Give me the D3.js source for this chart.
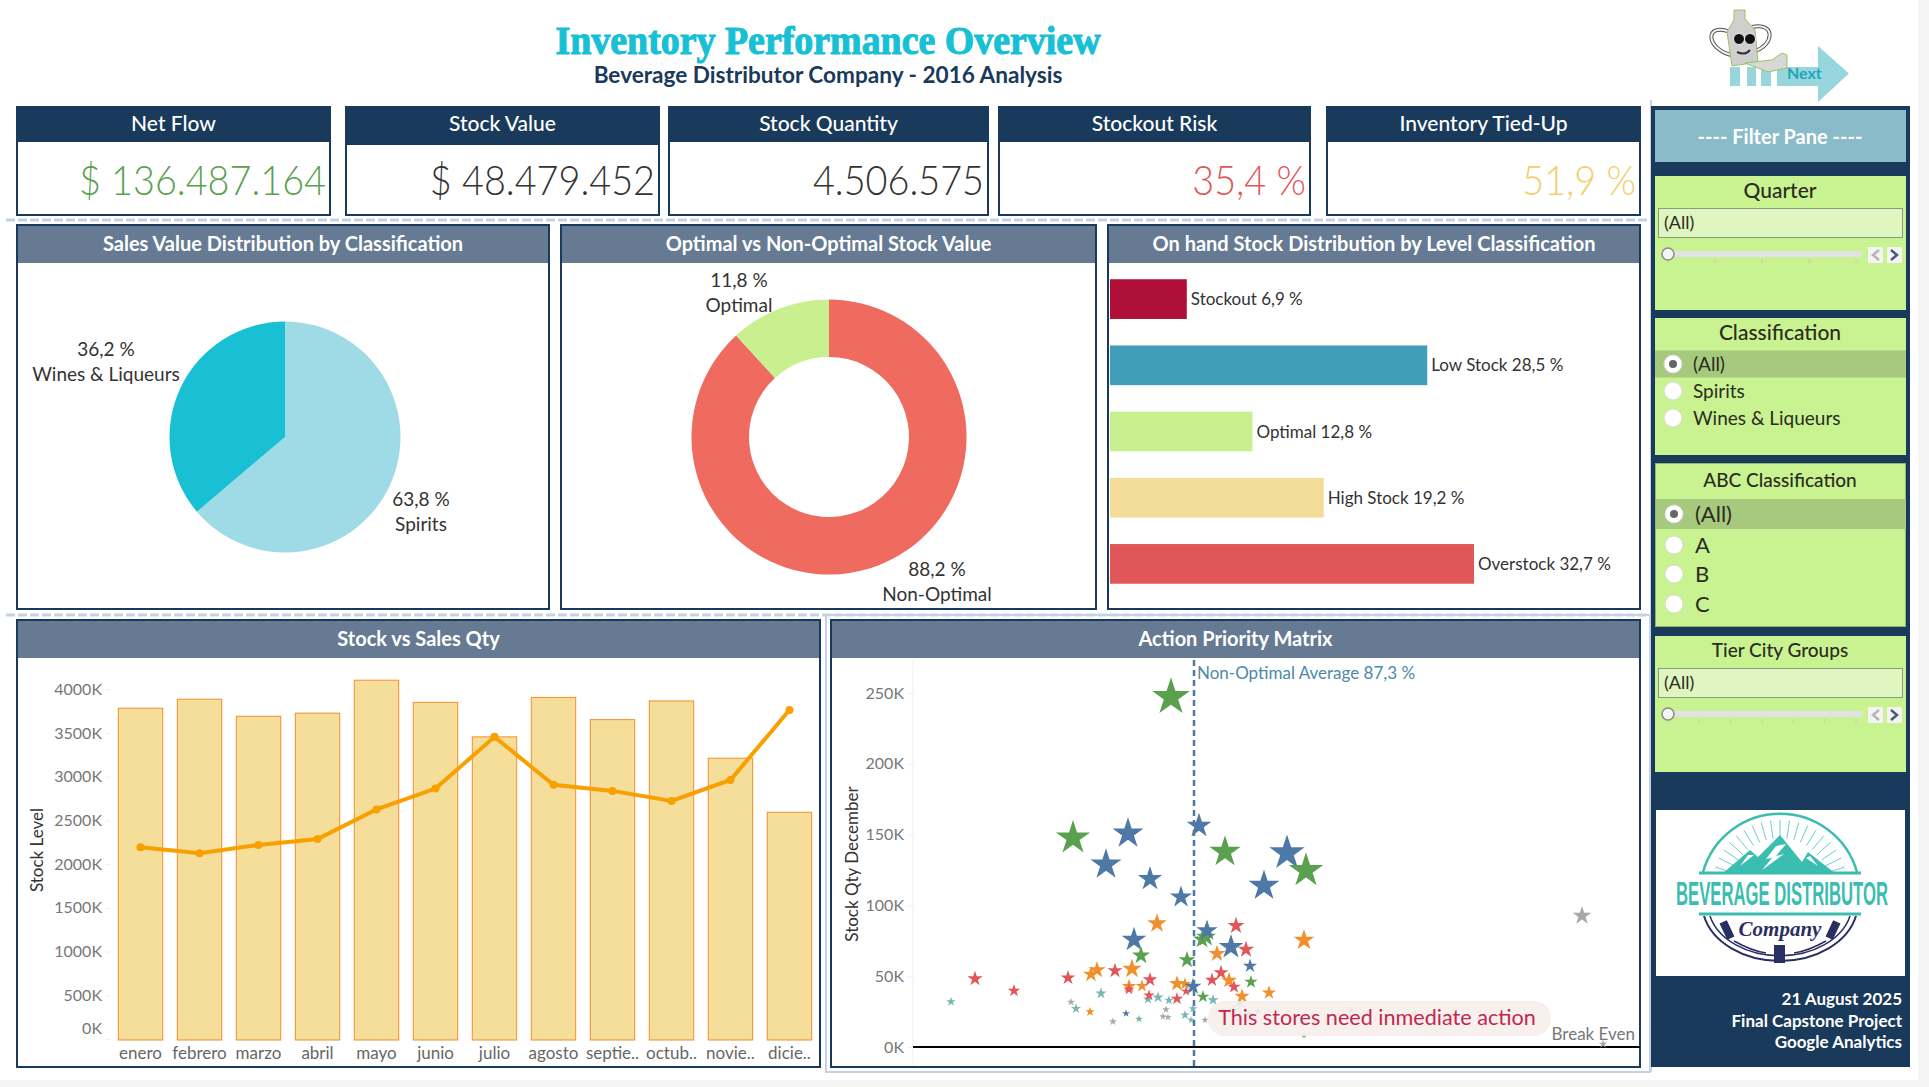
<!DOCTYPE html>
<html>
<head>
<meta charset="utf-8">
<title>Inventory Performance Overview</title>
<script src="https://cdnjs.cloudflare.com/ajax/libs/d3/7.8.5/d3.min.js"></script>
<style>
  html, body { margin: 0; padding: 0; background: #f5f5f5; overflow: hidden; }
  svg { display: block; font-family: "Lato", "Noto Sans", sans-serif; }
</style>
</head>
<body>
<svg id="dashboard"></svg>
<script>
// KPI cards
const kpiTitles = ["Net Flow", "Stock Value", "Stock Quantity", "Stockout Risk", "Inventory Tied-Up"];
const kpiValues = ["$ 136.487.164", "$ 48.479.452", "4.506.575", "35,4 %", "51,9 %"];

// pie + donut
const salesClasses = ["Spirits", "Wines & Liqueurs"];
const salesShares = [63.8, 36.2];
const optimalClasses = ["Non-Optimal", "Optimal"];
const optimalShares = [88.2, 11.8];

// on hand stock bars
const stockLevels = ["Stockout", "Low Stock", "Optimal", "High Stock", "Overstock"];
const stockLevelShares = [6.9, 28.5, 12.8, 19.2, 32.7];

// stock vs sales, K units
const months = ["enero", "febrero", "marzo", "abril", "mayo", "junio", "julio", "agosto", "septie..", "octub..", "novie..", "dicie.."];
const stockLevelK = [3784, 3887, 3692, 3727, 4104, 3850, 3456, 3907, 3653, 3867, 3212, 2594];
const salesQtyK = [2193, 2125, 2220, 2288, 2626, 2865, 3456, 2907, 2838, 2723, 2963, 3764];
const stockTicks = [0, 500, 1000, 1500, 2000, 2500, 3000, 3500, 4000];

// action matrix: [non-optimal %, stock qty December K, sales weight]
const matrixTicks = [0, 50, 100, 150, 200, 250];
const nonOptimalAverage = 87.3;
const greenStores = [[85.0,247.1,392],[75.2,147.6,324],[90.4,137.8,272],[98.5,124.6,331],[82.0,64.6,90],[86.6,61.4,81],[88.5,77.7,110],[88.1,75.9,90],[93.0,45.9,49],[88.2,35.5,45],[98.3,8.0,9]];
const blueStores = [[80.7,150.7,266],[78.5,128.8,266],[82.9,118.7,164],[86.0,105.9,135],[87.8,156.2,169],[96.6,137.0,346],[94.3,113.9,266],[81.3,75.8,169],[88.6,82.2,125],[91.0,70.6,169],[92.9,57.2,55],[87.2,42.7,77],[80.5,23.7,18]];
const orangeStores = [[83.6,87.2,104],[89.6,65.9,81],[90.8,47.0,71],[94.8,38.3,55],[92.1,35.8,64],[98.3,75.4,119],[85.6,44.7,71],[86.4,44.5,45],[82.1,43.1,45],[80.8,42.8,59],[81.1,55.1,104],[77.6,54.4,81],[77.0,51.3,71],[76.9,24.9,25]];
const redStores = [[91.5,85.6,81],[92.5,68.8,77],[90.0,52.5,64],[89.1,47.3,55],[91.3,42.4,49],[86.5,39.3,28],[85.6,34.1,45],[82.8,36.5,36],[82.9,47.5,59],[80.8,40.7,36],[79.4,53.9,64],[74.7,48.9,59],[65.4,48.2,64],[69.3,39.7,45]];
const tealStores = [[91.9,31.3,28],[89.2,33.2,36],[84.8,33.0,25],[83.7,35.1,36],[82.7,33.7,28],[78.0,37.9,36],[63.0,32.0,25],[75.5,27.1,28],[81.8,19.8,18],[86.4,22.6,25],[87.2,27.1,21],[87.0,19.1,15],[92.8,23.3,25],[91.3,26.1,25]];
const greyStores = [[126.1,92.6,96],[75.0,31.8,18],[79.2,18.0,18],[84.5,26.5,18],[84.2,21.5,15],[84.7,21.0,15],[88.4,19.1,15],[90.2,25.4,18],[93.7,25.4,18],[103.0,26.1,20],[109.4,24.2,15],[128.2,2.1,20]];

// filter pane
const classificationOptions = ["(All)", "Spirits", "Wines & Liqueurs"];
const abcOptions = ["(All)", "A", "B", "C"];
const footerLines = ["21 August 2025", "Final Capstone Project", "Google Analytics"];

const width = 1929;
const height = 1087;
const uiFont = "'Lato', 'Noto Sans', sans-serif";
const navy = "#1a3a5c";
const slate = "#667b93";
const dashColor = "#c5d2e5";
const textDark = "#333333";
const axisGrey = "#777777";

const svg = d3.select("#dashboard").attr("width", width).attr("height", height);

svg.append("rect").attr("width", 1918).attr("height", 1080).attr("fill", "#ffffff");

// page title
svg.append("text")
    .attr("x", 828).attr("y", 54)
    .attr("text-anchor", "middle")
    .attr("font-family", "'Liberation Serif', serif")
    .attr("font-weight", "bold")
    .attr("font-size", 40)
    .attr("textLength", 545)
    .attr("lengthAdjust", "spacingAndGlyphs")
    .attr("fill", "#17c0d4")
    .attr("stroke", "#17c0d4").attr("stroke-width", 1.1)
    .text("Inventory Performance Overview");

svg.append("text")
    .attr("x", 828).attr("y", 83)
    .attr("text-anchor", "middle")
    .attr("font-weight", 700)
    .attr("font-size", 22.6)
    .attr("fill", navy)
    .text("Beverage Distributor Company - 2016 Analysis");

// separators
svg.selectAll(".sep")
    .data([220, 615])
    .enter().append("line")
    .attr("x1", 6).attr("x2", 1650)
    .attr("y1", d => d).attr("y2", d => d)
    .attr("stroke", dashColor).attr("stroke-width", 3)
    .attr("stroke-dasharray", "9,3");
svg.append("rect")
    .attr("x", 826).attr("y", 615).attr("width", 824).attr("height", 457)
    .attr("fill", "none").attr("stroke", dashColor).attr("stroke-width", 2);
svg.append("line")
    .attr("x1", 1651).attr("x2", 1651).attr("y1", 100).attr("y2", 1072)
    .attr("stroke", dashColor).attr("stroke-width", 2);

// KPI cards
const kpiBoxes = [[16, 331, 142], [345, 660, 145], [668, 989, 142], [998, 1311, 142], [1326, 1641, 142]];
const kpiColors = ["#59a14f", textDark, textDark, "#e15759", "#f2cf6b"];
kpiTitles.forEach((title, i) => {
    const [x0, x1, headBottom] = kpiBoxes[i];
    svg.append("rect")
        .attr("x", x0 + 1).attr("y", 107).attr("width", x1 - x0 - 2).attr("height", 108)
        .attr("fill", "#fff").attr("stroke", navy).attr("stroke-width", 2);
    svg.append("rect")
        .attr("x", x0).attr("y", 106).attr("width", x1 - x0).attr("height", headBottom - 106)
        .attr("fill", navy);
    svg.append("text")
        .attr("x", (x0 + x1) / 2).attr("y", 131)
        .attr("text-anchor", "middle")
        .attr("fill", "#fff").attr("font-size", 21).attr("font-weight", 500)
        .text(title);
    // figures are narrower than the font at this height
    svg.append("text")
        .attr("transform", `translate(${x1 - 5},195) scale(0.9,1)`)
        .attr("text-anchor", "end")
        .attr("fill", kpiColors[i]).attr("font-size", 42).attr("font-weight", 300)
        .text(kpiValues[i]);
});

// chart panels with slate header
function panel(x0, x1, y0, y1, headHeight, title) {
    svg.append("rect")
        .attr("x", x0 + 1).attr("y", y0 + 1).attr("width", x1 - x0 - 2).attr("height", y1 - y0 - 2)
        .attr("fill", "#fff").attr("stroke", navy).attr("stroke-width", 2);
    svg.append("rect")
        .attr("x", x0 + 2).attr("y", y0 + 2).attr("width", x1 - x0 - 4).attr("height", headHeight)
        .attr("fill", slate);
    svg.append("text")
        .attr("x", (x0 + x1) / 2).attr("y", y0 + 2 + headHeight / 2 + 6)
        .attr("text-anchor", "middle")
        .attr("fill", "#fff").attr("font-size", 20).attr("font-weight", 700)
        .text(title);
}
panel(16, 550, 224, 610, 37, "Sales Value Distribution by Classification");
panel(560, 1097, 224, 610, 37, "Optimal vs Non-Optimal Stock Value");
panel(1107, 1641, 224, 610, 37, "On hand Stock Distribution by Level Classification");
panel(16, 821, 619, 1068, 37, "Stock vs Sales Qty");
panel(830, 1641, 619, 1068, 37, "Action Priority Matrix");

function pct(v) {
    return v.toFixed(1).replace(".", ",") + " %";
}

function twoLineLabel(x, y, top, bottom) {
    const g = svg.append("text").attr("text-anchor", "middle").attr("font-size", 19).attr("fill", textDark);
    g.append("tspan").attr("x", x).attr("y", y).text(top);
    g.append("tspan").attr("x", x).attr("y", y + 25).text(bottom);
}

// pie
const pieGen = d3.pie().sort(null);
const salesColor = d3.scaleOrdinal().domain(salesClasses).range(["#9fdbe6", "#19bfd3"]);
svg.append("g").attr("transform", "translate(285,437)")
    .selectAll("path")
    .data(pieGen(salesShares))
    .enter().append("path")
    .attr("d", d3.arc().innerRadius(0).outerRadius(115.5))
    .attr("fill", (d, i) => salesColor(salesClasses[i]));
twoLineLabel(106, 356, pct(salesShares[1]), salesClasses[1]);
twoLineLabel(421, 506, pct(salesShares[0]), salesClasses[0]);

// donut
const optimalColor = d3.scaleOrdinal().domain(optimalClasses).range(["#ef6a5f", "#c8f08f"]);
svg.append("g").attr("transform", "translate(829,437)")
    .selectAll("path")
    .data(pieGen(optimalShares))
    .enter().append("path")
    .attr("d", d3.arc().innerRadius(80).outerRadius(137.5))
    .attr("fill", (d, i) => optimalColor(optimalClasses[i]));
twoLineLabel(739, 287, pct(optimalShares[1]), optimalClasses[1]);
twoLineLabel(937, 576, pct(optimalShares[0]), optimalClasses[0]);

// level bars
const levelColors = ["#b01038", "#419eb8", "#c8f08f", "#f4dc99", "#e15759"];
const levelX = d3.scaleLinear().domain([0, 32.7]).range([1110, 1474]);
const levelY = d3.scaleBand().domain(stockLevels).range([266, 597]).paddingInner(0.4).paddingOuter(0.2);
stockLevels.forEach((level, i) => {
    svg.append("rect")
        .attr("x", levelX(0)).attr("y", levelY(level))
        .attr("width", levelX(stockLevelShares[i]) - levelX(0))
        .attr("height", levelY.bandwidth())
        .attr("fill", levelColors[i]);
    svg.append("text")
        .attr("x", levelX(stockLevelShares[i]) + 4)
        .attr("y", levelY(level) + levelY.bandwidth() / 2 + 6)
        .attr("font-size", 17).attr("fill", textDark)
        .text(level + " " + pct(stockLevelShares[i]));
});

// stock vs sales
const stockX = d3.scaleBand().domain(months).range([111, 819]).paddingInner(0.2475).paddingOuter(0.124);
const stockY = d3.scaleLinear().domain([0, 4000]).range([1039, 689.3]);

const stockAxis = svg.append("g")
    .attr("transform", "translate(110,0)")
    .call(d3.axisLeft(stockY).tickValues(stockTicks).tickSize(5).tickFormat(d => d + "K"));
stockAxis.attr("font-family", uiFont);
stockAxis.select(".domain").remove();
stockAxis.selectAll("line").attr("stroke", "#eeeeee");
stockAxis.selectAll("text").attr("font-size", 16).attr("fill", axisGrey);
// 0K label sits above its tick in the original
stockAxis.selectAll("text").filter(d => d === 0).attr("dy", "-0.35em");

const monthAxis = svg.append("g")
    .attr("transform", "translate(0,1040)")
    .call(d3.axisBottom(stockX).tickSize(0).tickPadding(7));
monthAxis.attr("font-family", uiFont);
monthAxis.select(".domain").remove();
monthAxis.selectAll("text").attr("font-size", 17).attr("fill", "#666666");

svg.selectAll(".stock-bar")
    .data(stockLevelK)
    .enter().append("rect")
    .attr("class", "stock-bar")
    .attr("x", (d, i) => stockX(months[i]))
    .attr("y", d => stockY(d))
    .attr("width", stockX.bandwidth())
    .attr("height", d => stockY(0) - stockY(d) + 1)
    .attr("fill", "#f5de99")
    .attr("stroke", "#f28e2b").attr("stroke-width", 1);

const salesLine = d3.line()
    .x((d, i) => stockX(months[i]) + stockX.bandwidth() / 2)
    .y(d => stockY(d));
svg.append("path")
    .datum(salesQtyK)
    .attr("d", salesLine)
    .attr("fill", "none")
    .attr("stroke", "#f7a000").attr("stroke-width", 4);
svg.selectAll(".sales-dot")
    .data(salesQtyK)
    .enter().append("circle")
    .attr("class", "sales-dot")
    .attr("cx", (d, i) => stockX(months[i]) + stockX.bandwidth() / 2)
    .attr("cy", d => stockY(d))
    .attr("r", 4)
    .attr("fill", "#f7a000");

svg.append("text")
    .attr("transform", "translate(43,850) rotate(-90)")
    .attr("text-anchor", "middle")
    .attr("font-size", 17).attr("fill", textDark)
    .text("Stock Level");

// action priority matrix
const matrixX = d3.scaleLinear().domain([59.2, 131.9]).range([913, 1640]);
const matrixY = d3.scaleLinear().domain([0, 250]).range([1047, 693]);
const starSize = d3.scaleLinear().domain([0, 400]).range([0, 449]);

const matrixAxis = svg.append("g")
    .attr("transform", "translate(913,0)")
    .call(d3.axisLeft(matrixY).tickValues(matrixTicks).tickSize(6).tickFormat(d => d + "K"));
matrixAxis.attr("font-family", uiFont);
matrixAxis.select(".domain").remove();
matrixAxis.selectAll("line").attr("stroke", "#eeeeee");
matrixAxis.selectAll("text").attr("font-size", 16).attr("fill", axisGrey);
svg.append("line")
    .attr("x1", 913).attr("x2", 913).attr("y1", 660).attr("y2", 1066)
    .attr("stroke", "#f0f0f0");

svg.append("text")
    .attr("transform", "translate(858,864) rotate(-90)")
    .attr("text-anchor", "middle")
    .attr("font-size", 17).attr("fill", textDark)
    .text("Stock Qty December");

svg.append("line")
    .attr("x1", matrixX(nonOptimalAverage)).attr("x2", matrixX(nonOptimalAverage))
    .attr("y1", 660).attr("y2", 1066)
    .attr("stroke", "#4e79a7").attr("stroke-width", 2.5)
    .attr("stroke-dasharray", "6,4");

svg.append("line")
    .attr("x1", matrixX.range()[0]).attr("x2", matrixX.range()[1])
    .attr("y1", matrixY(0)).attr("y2", matrixY(0))
    .attr("stroke", "#000").attr("stroke-width", 2);

svg.append("text")
    .attr("x", matrixX(nonOptimalAverage) + 3).attr("y", 679)
    .attr("font-size", 17).attr("fill", "#4a8aa8")
    .text("Non-Optimal Average " + pct(nonOptimalAverage));

const storeGroups = [
    { color: "#59a14f", rows: greenStores },
    { color: "#4e79a7", rows: blueStores },
    { color: "#f28e2b", rows: orangeStores },
    { color: "#e15759", rows: redStores },
    { color: "#76b7b2", rows: tealStores },
    { color: "#a8a8a8", rows: greyStores }
];
const stores = storeGroups
    .flatMap(g => g.rows.map(r => ({ x: r[0], y: r[1], w: r[2], color: g.color })))
    .sort((a, b) => d3.ascending(a.x, b.x));

svg.selectAll(".store")
    .data(stores)
    .enter().append("path")
    .attr("class", "store")
    .attr("transform", d => `translate(${matrixX(d.x)},${matrixY(d.y)})`)
    .attr("d", d => d3.symbol().type(d3.symbolStar).size(starSize(d.w))())
    .attr("fill", d => d.color);

svg.append("rect")
    .attr("x", 1208).attr("y", 1001).attr("width", 343).attr("height", 35).attr("rx", 17)
    .attr("fill", "#f6eeea").attr("opacity", 0.88);
svg.append("text")
    .attr("x", 1377).attr("y", 1025)
    .attr("text-anchor", "middle")
    .attr("font-size", 21.6).attr("fill", "#c2284f")
    .text("This stores need inmediate action");

svg.append("text")
    .attr("x", 1635).attr("y", 1040)
    .attr("text-anchor", "end")
    .attr("font-size", 17).attr("fill", axisGrey)
    .text("Break Even");

// filter pane
svg.append("rect").attr("x", 1651).attr("y", 106).attr("width", 259).attr("height", 961).attr("fill", navy);
svg.append("rect").attr("x", 1655).attr("y", 110).attr("width", 251).attr("height", 52).attr("fill", "#8abbc8");
svg.append("text")
    .attr("x", 1780).attr("y", 144).attr("text-anchor", "middle")
    .attr("fill", "#fff").attr("font-size", 20).attr("font-weight", 700)
    .text("---- Filter Pane ----");

const filterGreen = "#c9f391";
const filterInk = "#2b2b1f";

function filterBox(y0, y1, title, titleY, titleSize) {
    svg.append("rect").attr("x", 1655).attr("y", y0).attr("width", 251).attr("height", y1 - y0).attr("fill", filterGreen);
    svg.append("text")
        .attr("x", 1780).attr("y", titleY).attr("text-anchor", "middle")
        .attr("fill", filterInk).attr("font-size", titleSize).attr("font-weight", 500)
        .text(title);
}

function sliderFilter(boxY, tickCount) {
    const sliderY = boxY + 46;
    svg.append("rect")
        .attr("x", 1658.5).attr("y", boxY + 0.5).attr("width", 244).attr("height", 29)
        .attr("fill", "#e0f6c0").attr("stroke", "#8a9a80");
    svg.append("text")
        .attr("x", 1664).attr("y", boxY + 21)
        .attr("fill", filterInk).attr("font-size", 18)
        .text("(All)");
    svg.append("rect").attr("x", 1668).attr("y", sliderY - 3).attr("width", 194).attr("height", 6).attr("fill", "#e2e2e2");
    d3.range(tickCount).forEach(i => {
        const tx = 1668 + i * 188 / (tickCount - 1);
        svg.append("line").attr("x1", tx).attr("x2", tx).attr("y1", sliderY + 5).attr("y2", sliderY + 9).attr("stroke", "#c8c8c8");
    });
    svg.append("circle").attr("cx", 1668).attr("cy", sliderY).attr("r", 6)
        .attr("fill", "#f4f4f0").attr("stroke", "#8d8d84").attr("stroke-width", 1.5);
    [[1868, "M11,3 L5,8 L11,13", "#b5b5b5"], [1887, "M4,3 L10,8 L4,13", "#4a5a78"]].forEach(([bx, d, c]) => {
        const b = svg.append("g").attr("transform", `translate(${bx},${sliderY - 7})`);
        b.append("rect").attr("width", 15).attr("height", 16).attr("rx", 1).attr("fill", "#f4f4f4");
        b.append("path").attr("d", d).attr("fill", "none").attr("stroke", c).attr("stroke-width", 2.5);
    });
}

function radioList(options, rowYs, x0, textX, fontSize, rowH) {
    svg.append("rect").attr("x", x0).attr("y", rowYs[0] - rowH / 2)
        .attr("width", 1906 - x0).attr("height", rowH).attr("fill", "#a7c97e");
    options.forEach((opt, i) => {
        svg.append("circle").attr("cx", x0 + 18).attr("cy", rowYs[i]).attr("r", 9)
            .attr("fill", "#fff").attr("stroke", "#d9d9d9");
        if (i === 0) {
            svg.append("circle").attr("cx", x0 + 18).attr("cy", rowYs[i]).attr("r", 4).attr("fill", "#666");
        }
        svg.append("text").attr("x", textX).attr("y", rowYs[i] + fontSize * 0.36)
            .attr("fill", filterInk).attr("font-size", fontSize)
            .text(opt);
    });
}

filterBox(176, 310, "Quarter", 198, 21);
sliderFilter(208, 5);

filterBox(318, 455, "Classification", 340, 21);
radioList(classificationOptions, [364, 391, 418], 1655, 1693, 19, 27);

filterBox(463, 627, "ABC Classification", 487, 19);
svg.append("rect").attr("x", 1655.5).attr("y", 463.5).attr("width", 250).attr("height", 163)
    .attr("fill", "none").attr("stroke", "#8fb56f");
radioList(abcOptions, [514, 545, 574, 604], 1656, 1695, 22, 30);

filterBox(636, 772, "Tier City Groups", 657, 19);
sliderFilter(668, 7);

// logo, drawn by hand
svg.append("rect").attr("x", 1656).attr("y", 810).attr("width", 249).attr("height", 166).attr("fill", "#fff");
const logo = svg.append("g").attr("transform", "translate(1780,0)");
const logoTeal = "#3bbdb0";
const logoNavy = "#2a2f63";
logo.append("path").attr("d", "M-77,872 A80,80 0 0 1 77,872").attr("fill", "none").attr("stroke", logoTeal).attr("stroke-width", 2.5);
logo.append("path").attr("d", "M-81,873 H81").attr("stroke", logoTeal).attr("stroke-width", 3);
d3.range(-72, 73, 8).forEach(a => {
    const r = a * Math.PI / 180;
    logo.append("line")
        .attr("x1", 50 * Math.sin(r)).attr("y1", 888 - 50 * Math.cos(r))
        .attr("x2", 68 * Math.sin(r)).attr("y2", 888 - 68 * Math.cos(r))
        .attr("stroke", logoTeal).attr("stroke-width", 1).attr("opacity", 0.75);
});
logo.append("path")
    .attr("d", "M-58,874 L-30,850 L-22,857 L0,835 L22,862 L28,852 L56,874 Z")
    .attr("fill", logoTeal);
logo.append("path")
    .attr("d", "M-4,846 L6,844 L-4,856 L4,854 L-18,870 L-8,858 L-14,859 Z")
    .attr("fill", "#fff");
logo.append("path").attr("d", "M-32,855 L-26,855 L-40,866 Z M26,858 L30,856 L38,866 Z").attr("fill", "#fff");
const logoName = logo.append("text")
    .attr("font-family", "'Liberation Sans Narrow', 'Liberation Sans', sans-serif")
    .attr("font-weight", 700).attr("font-size", 24)
    .attr("text-anchor", "middle")
    .attr("fill", logoTeal)
    .text("BEVERAGE DISTRIBUTOR");
// stretch the wordmark to the width and height it has in the original
logoName.attr("transform", `translate(2,905) scale(${212 / logoName.node().getComputedTextLength()},1.35)`);
logo.append("path").attr("d", "M-81,914 H81").attr("stroke", logoTeal).attr("stroke-width", 3);
logo.append("path").attr("d", "M-76,916 A78,58 0 0 0 76,916").attr("fill", "none").attr("stroke", logoNavy).attr("stroke-width", 2);
logo.append("path").attr("d", "M-70,916 A72,52 0 0 0 70,916").attr("fill", "none").attr("stroke", logoNavy).attr("stroke-width", 1.5);
logo.append("text")
    .attr("x", 0).attr("y", 936).attr("text-anchor", "middle")
    .attr("font-family", "'Liberation Serif', serif")
    .attr("font-style", "italic").attr("font-weight", 700).attr("font-size", 21)
    .attr("fill", logoNavy)
    .text("Company");
logo.append("path").attr("d", "M-46,941 Q-28,951 -14,953 M46,941 Q28,951 14,953").attr("fill", "none").attr("stroke", logoNavy).attr("stroke-width", 1.5);
logo.append("rect").attr("x", -6).attr("y", 945).attr("width", 11).attr("height", 18).attr("fill", logoNavy);
[[-57, -25], [49, 25]].forEach(([bx, rot]) => {
    logo.append("rect").attr("x", bx).attr("y", 921).attr("width", 8).attr("height", 18)
        .attr("transform", `rotate(${rot},${bx + 4},930)`).attr("fill", logoNavy);
});

footerLines.forEach((line, i) => {
    svg.append("text")
        .attr("x", 1902).attr("y", 1005 + i * 21.5).attr("text-anchor", "end")
        .attr("fill", "#fff").attr("font-size", 17).attr("font-weight", 700)
        .text(line);
});

// next arrow + bottle mascot, drawn by hand
const arrow = svg.append("g").attr("fill", "#96d6dc");
[[1730, 10], [1747, 9], [1761, 10]].forEach(([bx, bw]) => {
    arrow.append("rect").attr("x", bx).attr("y", 67).attr("width", bw).attr("height", 19);
});
arrow.append("path").attr("d", "M1777,67 H1818 V46 L1849,73.5 L1818,102 V86 H1777 Z");
svg.append("text").attr("x", 1787).attr("y", 79)
    .attr("font-size", 16).attr("font-weight", 700).attr("fill", "#1ea6bd")
    .text("Next");

const mascot = svg.append("g").attr("stroke", "#9ac35c").attr("stroke-width", 1);
["M1730,32 C1705,22 1705,48 1731,55", "M1752,27 C1776,22 1774,45 1755,51"].forEach(d => {
    mascot.append("path").attr("d", d).attr("fill", "none").attr("stroke", "#555").attr("stroke-width", 4);
    mascot.append("path").attr("d", d).attr("fill", "none").attr("stroke", "#f2f2f2").attr("stroke-width", 2);
});
mascot.append("path")
    .attr("d", "M1734,10 H1745 V19 L1755,30 L1758,62 L1732,66 L1727,32 L1734,20 Z")
    .attr("fill", "#cfcfcf");
mascot.append("path").attr("d", "M1745,63 L1772,60 L1782,53 L1787,55 L1787,68 L1768,72 L1758,68 Z").attr("fill", "#d8d8d8");
mascot.append("circle").attr("cx", 1739).attr("cy", 39).attr("r", 5.5).attr("fill", "#111").attr("stroke", "#eee");
mascot.append("circle").attr("cx", 1750).attr("cy", 39).attr("r", 5.5).attr("fill", "#111").attr("stroke", "#eee");
mascot.append("path").attr("d", "M1737,52 Q1745,56 1750,50").attr("fill", "none").attr("stroke", "#333").attr("stroke-width", 2);
</script>
</body>
</html>
